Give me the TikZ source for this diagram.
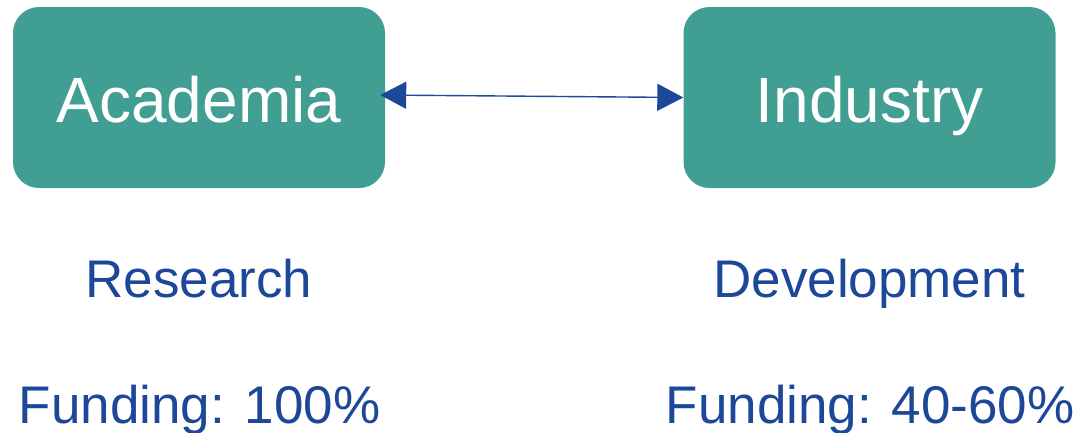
\documentclass[tikz,border=0pt]{standalone}
\usepackage{fontspec}
\setmainfont{Liberation Sans}
\usetikzlibrary{arrows.meta}
\definecolor{tealbox}{HTML}{419E93}
\definecolor{bluetxt}{HTML}{1D4798}
\begin{document}
\begin{tikzpicture}[x=1pt,y=-1pt,
  box/.style={fill=tealbox,draw=none,rounded corners=26pt,minimum width=372pt,minimum height=181pt,inner sep=0pt},
  boxtext/.style={text=white,anchor=base,font=\fontsize{64}{70}\selectfont,inner sep=0pt},
  label/.style={text=bluetxt,anchor=base,font=\fontsize{53}{60}\selectfont,inner sep=0pt},
  link/.style={draw=bluetxt,line width=1.4pt,{Triangle[length=26pt,width=27pt]}-{Triangle[length=26pt,width=27pt]}}]
\useasboundingbox (0,0) rectangle (1079,432);
\node[box] (A) at (199,97.5) {};
\node[box] (I) at (869.5,97.5) {};
\node[boxtext] (At) at (199,122) {Academia};
\node[boxtext] (It) at (869.5,122) {Industry};
\node[label] (R) at (199,297) {Research};
\node[label] (D) at (869.5,297) {Development};
\node[label] (FA) at (199.5,423) {Funding: 100\%};
\node[label] (FI) at (870,423) {Funding: 40-60\%};
\coordinate (s) at ([shift={(-5,-2.5)}]A.east);
\coordinate (e) at (I.west);
\draw[link] (s) -- (e);
\end{tikzpicture}
\end{document}
